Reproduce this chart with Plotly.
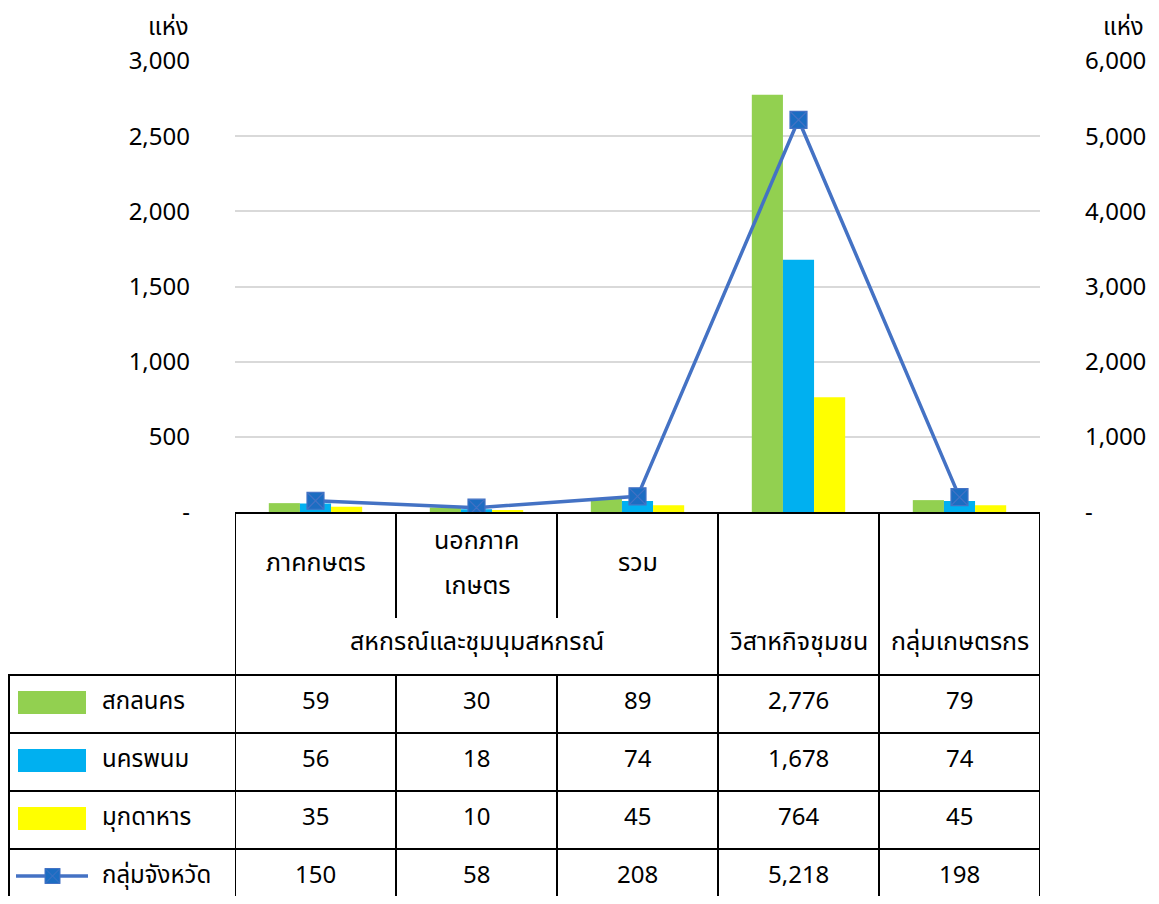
import plotly.graph_objects as go

# ---------------- data ----------------
categories = ["ภาคกษตร", "นอกภาค<br>เกษตร", "รวม", "วิสาหกิจชุมชน", "กลุ่มเกษตรกร"]
group_label = "สหกรณ์และชุมนุมสหกรณ์"
group_span = [0, 2]          # categories covered by the group label
series_names = ["สกลนคร", "นครพนม", "มุกดาหาร", "กลุ่มจังหวัด"]
sakon = [59, 30, 89, 2776, 79]
nakhon = [56, 18, 74, 1678, 74]
mukdahan = [35, 10, 45, 764, 45]
province_group = [150, 58, 208, 5218, 198]
left_tickvals = [0, 500, 1000, 1500, 2000, 2500, 3000]
left_ticktext = ["-", "500", "1,000", "1,500", "2,000", "2,500", "3,000"]
right_tickvals = [0, 1000, 2000, 3000, 4000, 5000, 6000]
right_ticktext = ["-", "1,000", "2,000", "3,000", "4,000", "5,000", "6,000"]
unit_label = "แห่ง"

# ---------------- styling ----------------
# page has an 8px body margin; figure sized so the page never overflows
OFF = 8
W, H = 1159 - 2 * OFF, 904 - 2 * OFF
FONT = "Tahoma, 'Noto Sans Thai', 'Noto Sans', 'Open Sans', sans-serif"
FS = 24
FS_HDR = 25
bar_colors = ["#92D050", "#00B0F0", "#FFFF00"]
line_color = "#4472C4"
marker_fill = "#1C6DC2"

PL, PR, PT, PB = 235, 1040, 61, 512   # plot area in page pixels


def px_x(x):
    return (x - OFF) / W


def px_y(y):
    return 1 - (y - OFF) / H


fig = go.Figure()
for name, vals, col in zip(series_names[:3], [sakon, nakhon, mukdahan], bar_colors):
    fig.add_trace(go.Bar(x=categories, y=vals, name=name, marker_color=col,
                         marker_line_width=0, yaxis="y", showlegend=False))
fig.add_trace(go.Scatter(x=categories, y=province_group, name=series_names[3], yaxis="y2",
                         mode="lines+markers", showlegend=False,
                         line=dict(color=line_color, width=3.5),
                         marker=dict(symbol="square-x", size=17, color=marker_fill,
                                     line=dict(color=line_color, width=1.2))))

shapes = []
annotations = []


def hline(y, x0, x1, xref="paper", color="black", width=2):
    shapes.append(dict(type="line", xref=xref, yref="paper", x0=x0, x1=x1,
                       y0=px_y(y), y1=px_y(y), line=dict(color=color, width=width)))


def vline(x, y0, y1, xref="x", color="black", width=2):
    shapes.append(dict(type="line", xref=xref, yref="paper", x0=x, x1=x,
                       y0=px_y(y0), y1=px_y(y1), line=dict(color=color, width=width)))


n = len(categories)
BOTTOM = 910
# table top line (x axis line)
hline(513, -0.5, n - 0.5, xref="x")
# header vertical lines
for b in range(n + 1):
    xb = b - 0.5
    inside_group = group_span[0] < b <= group_span[1]
    if inside_group:
        vline(xb, 513, 618)
        vline(xb, 675, BOTTOM)
    else:
        vline(xb, 513, BOTTOM)
# left legend column border
vline(px_x(9), 675, BOTTOM, xref="paper")
# row lines
row_tops = [675, 733, 791, 849]
for y in row_tops:
    hline(y, px_x(8), px_x(PR))

# header texts
hdr_font = dict(family=FONT, size=FS_HDR, color="black")
cell_font = dict(family=FONT, size=FS, color="black")
for i, lab in enumerate(categories):
    if group_span[0] <= i <= group_span[1]:
        parts = lab.split("<br>")
        k = len(parts)
        for j, p in enumerate(parts):
            yc = 563 + (j - (k - 1) / 2) * 45
            annotations.append(dict(x=i, y=px_y(yc), xref="x", yref="paper", text=p,
                                    showarrow=False, font=hdr_font, xanchor="center",
                                    yanchor="middle"))
    else:
        annotations.append(dict(x=i, y=px_y(642), xref="x", yref="paper", text=lab,
                                showarrow=False, font=hdr_font, xanchor="center",
                                yanchor="middle"))
annotations.append(dict(x=(group_span[0] + group_span[1]) / 2, y=px_y(642), xref="x",
                        yref="paper", text=group_label, showarrow=False, font=hdr_font,
                        xanchor="center", yanchor="middle"))

# data rows
all_series = [sakon, nakhon, mukdahan, province_group]
for r, (name, vals) in enumerate(zip(series_names, all_series)):
    yc = row_tops[r] + 27
    for i, v in enumerate(vals):
        annotations.append(dict(x=i, y=px_y(yc), xref="x", yref="paper", text=f"{v:,}",
                                showarrow=False, font=cell_font, xanchor="center",
                                yanchor="middle"))
    annotations.append(dict(x=px_x(100), y=px_y(yc), xref="paper", yref="paper", text=name,
                            showarrow=False, font=cell_font, xanchor="left",
                            yanchor="middle"))
    if r < 3:
        shapes.append(dict(type="rect", xref="paper", yref="paper",
                           x0=px_x(18), x1=px_x(86), y0=px_y(yc - 11), y1=px_y(yc + 12),
                           fillcolor=bar_colors[r], line=dict(width=0)))
    else:
        shapes.append(dict(type="line", xref="paper", yref="paper", x0=px_x(16), x1=px_x(88),
                           y0=px_y(yc), y1=px_y(yc), line=dict(color=line_color, width=3.5)))
        shapes.append(dict(type="rect", xref="paper", yref="paper",
                           x0=px_x(45), x1=px_x(60), y0=px_y(yc - 7.5), y1=px_y(yc + 7.5),
                           fillcolor=marker_fill, line=dict(color=line_color, width=1)))
        shapes.append(dict(type="line", xref="paper", yref="paper", x0=px_x(45), x1=px_x(60),
                           y0=px_y(yc - 7.5), y1=px_y(yc + 7.5),
                           line=dict(color=line_color, width=1)))
        shapes.append(dict(type="line", xref="paper", yref="paper", x0=px_x(45), x1=px_x(60),
                           y0=px_y(yc + 7.5), y1=px_y(yc - 7.5),
                           line=dict(color=line_color, width=1)))

# unit labels (anchored to the top edge of the figure so they are not clipped)
annotations.append(dict(x=px_x(191), y=1, xref="paper", yref="paper", text=unit_label,
                        showarrow=False, font=cell_font, xanchor="right", yanchor="top"))
annotations.append(dict(x=px_x(1146), y=1, xref="paper", yref="paper", text=unit_label,
                        showarrow=False, font=cell_font, xanchor="right", yanchor="top"))

fig.update_layout(
    width=W, height=H, autosize=False,
    margin=dict(l=0, r=0, t=0, b=0),
    paper_bgcolor="white", plot_bgcolor="white",
    barmode="group", bargap=0.42, bargroupgap=0,
    font=dict(family=FONT, size=FS, color="black"),
    xaxis=dict(domain=[px_x(PL), px_x(PR)], range=[-0.5, n - 0.5], showticklabels=False,
               showgrid=False, zeroline=False, showline=False, ticks="", automargin=False),
    yaxis=dict(domain=[px_y(PB), px_y(PT)], range=[0, 3000], tickvals=left_tickvals,
               ticktext=left_ticktext, showgrid=True, gridcolor="#D9D9D9", gridwidth=1.5,
               zeroline=False, showline=False, ticks="", ticklabelstandoff=44,
               automargin=False, tickfont=dict(family=FONT, size=FS, color="black")),
    yaxis2=dict(overlaying="y", side="right", range=[0, 6000], tickvals=right_tickvals,
                ticktext=right_ticktext, showgrid=False, zeroline=False, showline=False,
                ticks="", ticklabelstandoff=44, anchor="x", automargin=False,
                tickfont=dict(family=FONT, size=FS, color="black")),
    shapes=shapes,
    annotations=annotations,
)

fig.write_html("out.html")
